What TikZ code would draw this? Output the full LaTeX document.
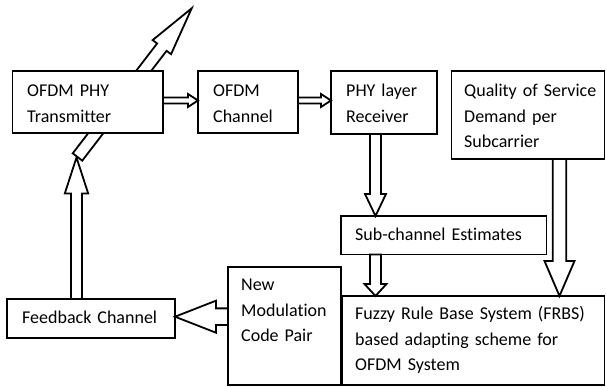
\documentclass[tikz,border=0pt]{standalone}
\usepackage{fontspec}
\setmainfont[Ligatures=NoCommon]{Carlito}
\usetikzlibrary{calc}
\tikzset{
  box/.style={draw, line width=1.8pt, fill=white, rectangle, anchor=north west, inner sep=0pt, outer sep=0pt},
  txt/.style={anchor=base west, inner sep=0pt, align=left, text width=260pt, font=\fontsize{18}{25.5}\selectfont},
  fatline/.style={draw, fill=white, line width=1.8pt, line join=miter},
}
% #1 tail, #2 tip, #3 half shaft width, #4 half head width, #5 head length
\newcommand\fatarrow[5]{%
  \coordinate (fahb) at ($(#2)!#5!(#1)$);
  \path[fatline] ($(#1)!#3!90:(#2)$) -- ($(fahb)!#3!90:(#2)$) -- ($(fahb)!#4!90:(#2)$) -- (#2)
    -- ($(fahb)!#4!-90:(#2)$) -- ($(fahb)!#3!-90:(#2)$) -- ($(#1)!#3!-90:(#2)$) -- cycle;
}
\begin{document}
\begin{tikzpicture}[x=1pt, y=-1pt]
\useasboundingbox (0,0) rectangle (606,387);
% diagonal transmit arrow (partly behind the transmitter box)
\coordinate (dgs) at (77.5,157);
\coordinate (dgt) at (191.7,8.3);
\fatarrow{dgs}{dgt}{6pt}{11.6pt}{49pt}
% boxes
\node[box, minimum width=150.5pt, minimum height=62pt] (tx) at (12.5,71) {};
\node[box, minimum width=100pt, minimum height=62pt] (ch) at (198,71) {};
\node[box, minimum width=106pt, minimum height=63pt] (rx) at (331,71) {};
\node[box, minimum width=153pt, minimum height=88pt] (qos) at (451.5,71) {};
\node[box, minimum width=205.5pt, minimum height=38.5pt] (sub) at (341,216) {};
\node[box, minimum width=113pt, minimum height=118pt] (nm) at (228,267) {};
\node[box, minimum width=262.5pt, minimum height=89pt] (frbs) at (342,296) {};
\node[box, minimum width=168pt, minimum height=39pt] (fb) at (7,299) {};
% connectors
\coordinate (a1s) at ([yshift=1.5pt]tx.east);
\coordinate (a1t) at (a1s -| ch.west);
\fatarrow{a1s}{a1t}{3pt}{6.5pt}{10pt}
\coordinate (a2s) at ([yshift=1.5pt]ch.east);
\coordinate (a2t) at (a2s -| rx.west);
\fatarrow{a2s}{a2t}{3pt}{6.5pt}{10pt}
\coordinate (a3s) at ($(rx.south west)+(44.5,0)$);
\coordinate (a3t) at (a3s |- sub.north);
\fatarrow{a3s}{a3t}{5.5pt}{10.5pt}{22pt}
\coordinate (a4s) at (a3s |- sub.south);
\coordinate (a4t) at (a4s |- frbs.north);
\fatarrow{a4s}{a4t}{5.5pt}{11pt}{12pt}
\coordinate (a5s) at ($(qos.south west)+(108,0)$);
\coordinate (a5t) at (a5s |- frbs.north);
\fatarrow{a5s}{a5t}{6.7pt}{15pt}{35pt}
\coordinate (a6s) at ([yshift=9.3pt]nm.west);
\coordinate (a6t) at (a6s -| fb.east);
\fatarrow{a6s}{a6t}{8.3pt}{16pt}{41pt}
\coordinate (a7s) at ($(fb.north west)+(69.5,0)$);
\coordinate (a7t) at ($(a7s |- tx.south)+(0,24.5)$);
\fatarrow{a7s}{a7t}{5.5pt}{11.7pt}{36pt}
% texts
\node[txt] (ttx) at (27,97) {OFDM PHY\\Transmitter};
\node[txt] (tch) at (213,97) {OFDM\\Channel};
\node[txt] (trx) at (346,97) {PHY layer\\Receiver};
\node[txt] (tqos) at (464,97) {Quality of Service\\Demand per\\Subcarrier};
\node[txt] (tsub) at (355,241) {Sub-channel Estimates};
\node[txt] (tnm) at (241,291) {New\\Modulation\\Code Pair};
\node[txt] (tfrbs) at (355,320) {Fuzzy Rule Base System (FRBS)\\based adapting scheme for\\OFDM System};
\node[txt] (tfb) at (22,324) {Feedback Channel};
\end{tikzpicture}
\end{document}
